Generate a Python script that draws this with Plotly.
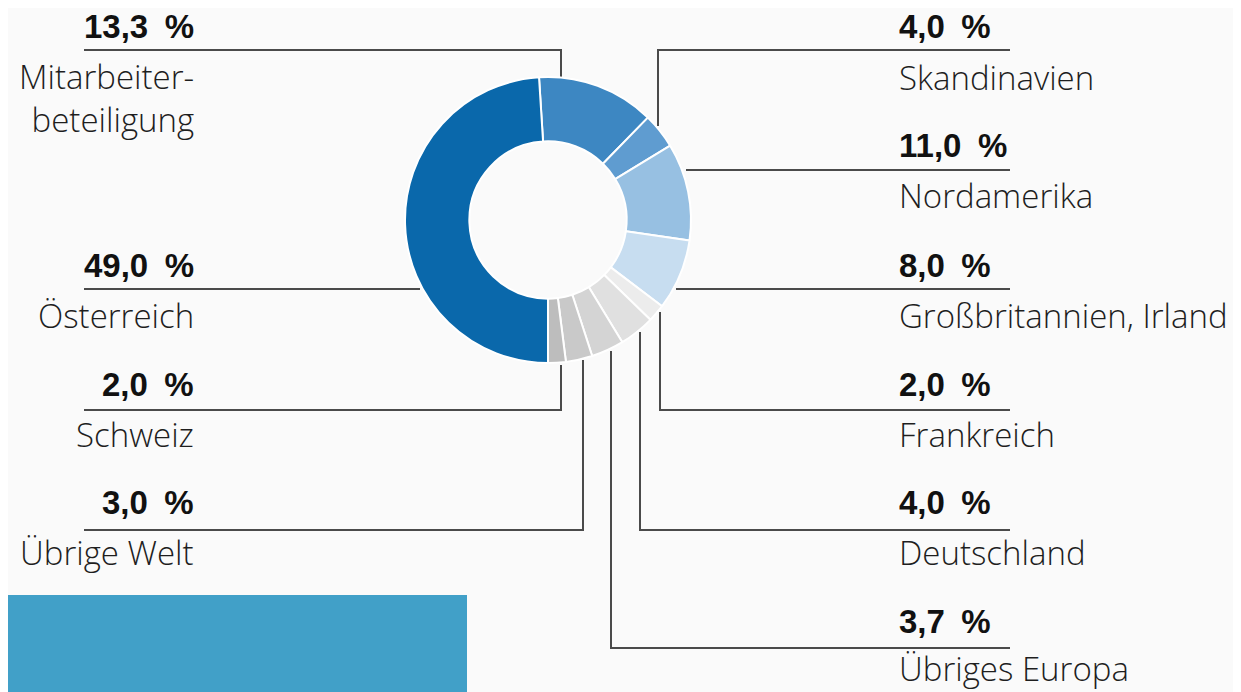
import plotly.graph_objects as go

# ---- data ----
categories = ["Mitarbeiterbeteiligung", "Skandinavien", "Nordamerika",
              "Großbritannien, Irland", "Frankreich", "Deutschland",
              "Übriges Europa", "Übrige Welt", "Schweiz", "Österreich"]
values = [13.3, 4.0, 11.0, 8.0, 2.0, 4.0, 3.7, 3.0, 2.0, 49.0]
label_text = ["Mitarbeiter-<br>beteiligung", "Skandinavien", "Nordamerika",
              "Großbritannien, Irland", "Frankreich", "Deutschland",
              "Übriges Europa", "Übrige Welt", "Schweiz", "Österreich"]
colors = ["#3d87c2", "#5f9cd0", "#97c0e2", "#c7ddf0", "#ececec",
          "#e0e0e0", "#d4d4d4", "#c9c9c9", "#bdbdbd", "#0a68ab"]

# ---- layout helpers (screen pixel coordinates; page has an 8px body margin) ----
W, H = 1241, 692
OFF = 8
FW, FH = W - OFF, H - OFF
cx, cy, R = 548, 220, 143
LINE = "#4a4a4a"

fig = go.Figure()
pcx, pcy = cx - OFF, cy - OFF
fig.add_trace(go.Pie(
    labels=categories, values=values, sort=False, direction="clockwise",
    rotation=-sum(values[:-1]) / sum(values) * 360 + 180,
    hole=0.55, marker=dict(colors=colors, line=dict(color="white", width=2)),
    textinfo="none", showlegend=False, hoverinfo="label+value",
    domain=dict(x=[(pcx - R) / FW, (pcx + R) / FW],
                y=[(FH - pcy - R) / FH, (FH - pcy + R) / FH]),
))

side = ["L", "R", "R", "R", "R", "R", "R", "L", "L", "L"]
pct_y = [26, 26, 145, 265, 384, 502, 621, 502, 384, 265]
lab_y = [98, 77, 195, 315, 434, 552, 668, 552, 434, 315]
paths = [
    [(84, 50), (561, 50), (561, 77)],
    [(1010, 50), (658, 50), (658, 126)],
    [(1010, 170), (686, 170)],
    [(1010, 289), (676, 289)],
    [(1010, 410), (660, 410), (660, 312)],
    [(1010, 530), (640, 530), (640, 332)],
    [(1010, 648), (611, 648), (611, 351)],
    [(84, 530), (583, 530), (583, 360)],
    [(84, 410), (561, 410), (561, 365)],
    [(84, 289), (420, 289)],
]

for v, s, py, ly, txt, pts in zip(values, side, pct_y, lab_y, label_text, paths):
    pct = f"{v:.1f}".replace(".", ",") + "\u2002%"
    x = 196 if s == "L" else 897
    xa = "right" if s == "L" else "left"
    fig.add_annotation(x=x, y=py, xref="x", yref="y", text=f"<b>{pct}</b>",
                       showarrow=False, xanchor=xa, yanchor="middle", align=xa,
                       font=dict(family="Liberation Sans", size=33, color="#111"))
    fig.add_annotation(x=x, y=ly, xref="x", yref="y", text=txt,
                       showarrow=False, xanchor=xa, yanchor="middle", align=xa,
                       font=dict(family="Open Sans", size=33, weight=300, color="#1e1e1e"))
    d = "M " + " L ".join(f"{a},{b}" for a, b in pts)
    fig.add_shape(type="path", path=d, xref="x", yref="y",
                  line=dict(color=LINE, width=2), layer="below")

# blue block bottom-left
fig.add_shape(type="rect", x0=0, x1=467, y0=595, y1=H + 10, xref="x", yref="y",
              fillcolor="#41a0c8", line=dict(width=0), layer="below")

fig.update_layout(
    width=FW, height=FH, margin=dict(l=0, r=0, t=0, b=0),
    paper_bgcolor="#fafafa", plot_bgcolor="rgba(0,0,0,0)",
    xaxis=dict(range=[OFF, W], visible=False, fixedrange=True),
    yaxis=dict(range=[H, OFF], visible=False, fixedrange=True),
)
fig.write_html("out.html")
